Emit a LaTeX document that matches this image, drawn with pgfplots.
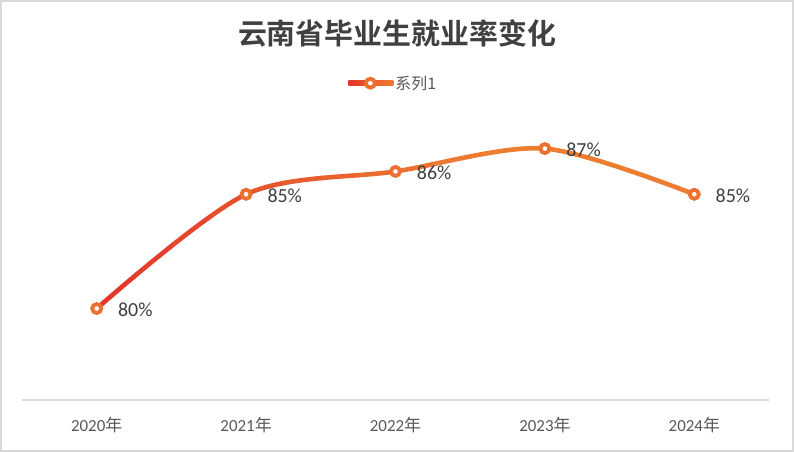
\documentclass[border=0pt]{standalone}
\usepackage{fontspec}
\usepackage{pgfplots}
\usepackage{pgfplotstable}
\pgfplotsset{compat=1.18}
\setmainfont{Carlito}
\newfontfamily\cjk{Noto Sans CJK SC}
\newfontfamily\titlefont{Noto Sans CJK SC Bold}
\definecolor{linered}{HTML}{E3342C}
\definecolor{lineorange}{HTML}{ED7D31}
\definecolor{markc}{HTML}{EC702F}
\definecolor{labelc}{HTML}{404040}
\definecolor{tickc}{HTML}{595959}
\definecolor{axisc}{HTML}{D9D9D9}
\definecolor{framec}{HTML}{D9D9D9}

\pgfplotstableread{
x y
0 80
1 85
2 86
3 87
4 85
}\ratedata

\newcommand\strip[3]{%
 \begin{scope}
 \clip (axis cs:#1,70) rectangle (axis cs:#2,95);
 \addplot[smooth, line width=4.6bp, line cap=round, color=lineorange!#3!linered, forget plot] table[x=x,y=y]{\ratedata};
 \end{scope}}

\begin{document}
\begin{tikzpicture}
\fill[white] (0,0) rectangle (794bp,452bp);
\useasboundingbox (0,0) rectangle (794bp,452bp);
\draw[framec, line width=2bp] (1bp,1bp) rectangle (793bp,451bp);
\node[font=\titlefont\fontsize{29}{29}\selectfont, text=labelc] at (397bp,418.5bp) {云南省毕业生就业率变化};
\begin{axis}[
  at={(22bp,52bp)}, anchor=south west,
  scale only axis, width=747bp, height=320bp,
  xmin=-0.5, xmax=4.5, ymin=76, ymax=90,
  clip=false,
  axis x line*=bottom, axis y line=none,
  x axis line style={draw=axisc, line width=1.3bp, -},
  xtick={0,1,2,3,4},
  xticklabels={2020{\cjk 年},2021{\cjk 年},2022{\cjk 年},2023{\cjk 年},2024{\cjk 年}},
  major tick length=0pt,
  xticklabel style={font=\fontsize{17}{17}\selectfont, text=tickc, anchor=base, yshift=-31bp},
  legend style={draw=none, fill=none, at={(0.497,0.99)}, anchor=center,
    font=\cjk\fontsize{16}{16}\selectfont, text=tickc, inner sep=0pt,
    /tikz/column 2/.style={column sep=6bp}},
  legend image code/.code={
    \shade[draw=none, left color=linered, right color=lineorange] (0bp,-2.4bp) rectangle (45bp,2.4bp);
    \draw[draw=markc, fill=white, line width=3.8bp] (22bp,0) circle (4.5bp);
  },
]
\strip{-0.5}{0.26}{5}
\strip{0.25}{0.51}{15}
\strip{0.5}{0.76}{25}
\strip{0.75}{1.01}{35}
\strip{1.0}{1.26}{45}
\strip{1.25}{1.51}{55}
\strip{1.5}{1.76}{65}
\strip{1.75}{2.01}{75}
\strip{2.0}{2.26}{85}
\strip{2.25}{2.51}{95}
\strip{2.5}{4.6}{100}
\addplot[only marks, mark=*, mark size=4.5bp, line width=3.8bp,
  mark options={draw=markc, fill=white, line width=3.8bp},
  point meta=explicit,
  nodes near coords={\pgfmathprintnumber[assume math mode=true]{\pgfplotspointmeta}\%},
  every node near coord/.style={anchor=west, inner sep=0pt, xshift=19.5bp, yshift=-1.5bp,
    font=\fontsize{20}{20}\selectfont, text=labelc},
] table[x=x, y=y, meta=y]{\ratedata};
\addlegendentry{系列1}
\end{axis}
\end{tikzpicture}
\end{document}
